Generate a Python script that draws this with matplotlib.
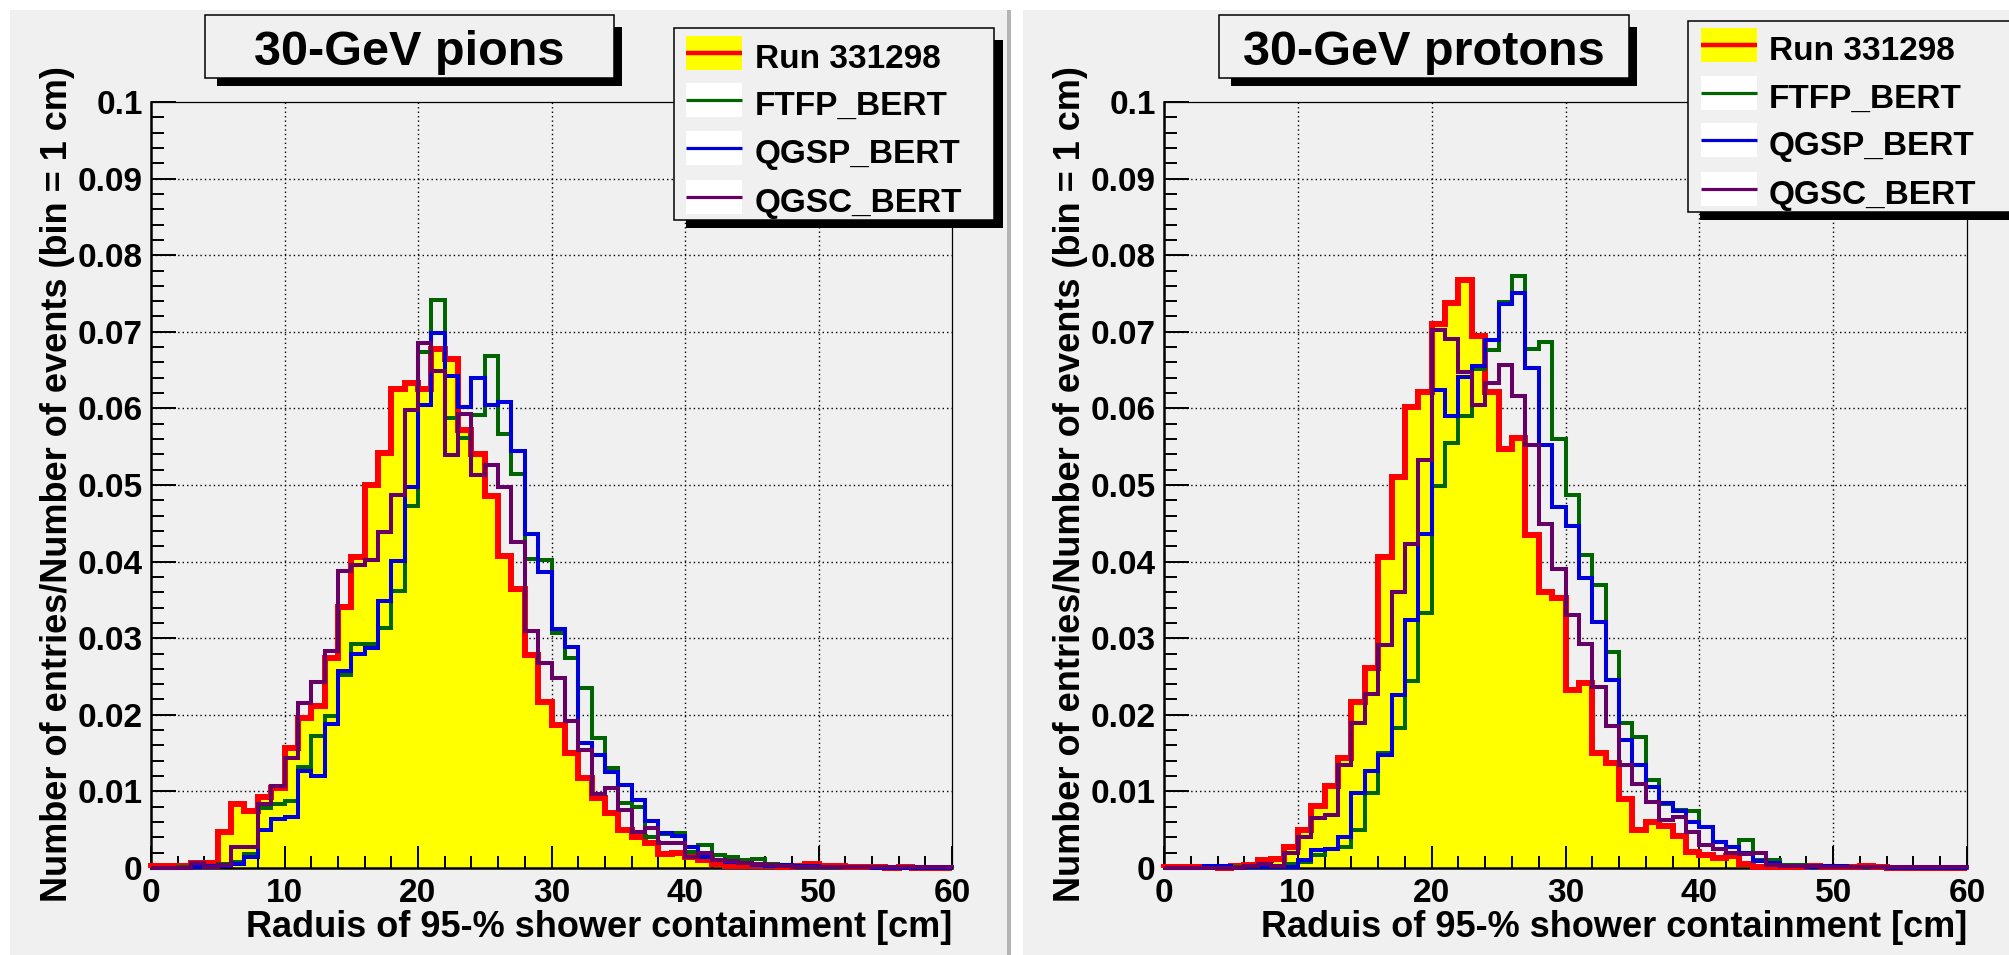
import numpy as np
import matplotlib
matplotlib.use('Agg')
import matplotlib.pyplot as plt
from matplotlib.patches import Rectangle
from matplotlib.lines import Line2D
from matplotlib.ticker import FormatStrFormatter

plt.rcParams['font.family'] = ['Liberation Sans', 'DejaVu Sans']
plt.rcParams['font.weight'] = 'bold'

# 1 cm bins from 0 to 60 cm, normalised to the number of events
edges = np.arange(0, 61)

pion_data = [0.0002, 0.0003, 0.0003, 0.0006, 0.0007, 0.0047, 0.0084, 0.0075, 0.0093, 0.0105,
             0.0157, 0.0196, 0.0211, 0.0274, 0.0341, 0.0406, 0.0500, 0.0542, 0.0625, 0.0633,
             0.0625, 0.0678, 0.0664, 0.0572, 0.0541, 0.0485, 0.0407, 0.0364, 0.0278, 0.0217,
             0.0187, 0.0150, 0.0117, 0.0091, 0.0072, 0.0049, 0.0041, 0.0032, 0.0018, 0.0020,
             0.0014, 0.0010, 0.0005, 0.0003, 0.0002, 0.0002, 0.0002, 0.0001, 0.0003, 0.0005,
             0.0002, 0.0002, 0.0001, 0.0001, 0.0001, 0.0000, 0.0001, 0.0000, 0.0000, 0.0000]
pion_ftfp = [0.0000, 0.0000, 0.0001, 0.0003, 0.0003, 0.0005, 0.0008, 0.0018, 0.0078, 0.0083,
             0.0087, 0.0132, 0.0172, 0.0198, 0.0252, 0.0292, 0.0293, 0.0313, 0.0361, 0.0472,
             0.0674, 0.0741, 0.0587, 0.0561, 0.0591, 0.0668, 0.0567, 0.0515, 0.0404, 0.0402,
             0.0307, 0.0274, 0.0235, 0.0170, 0.0130, 0.0085, 0.0079, 0.0040, 0.0045, 0.0046,
             0.0021, 0.0030, 0.0017, 0.0015, 0.0010, 0.0012, 0.0005, 0.0004, 0.0002, 0.0002,
             0.0001, 0.0001, 0.0001, 0.0001, 0.0001, 0.0001, 0.0000, 0.0000, 0.0000, 0.0000]
pion_qgsp = [0.0000, 0.0000, 0.0000, 0.0001, 0.0002, 0.0002, 0.0005, 0.0015, 0.0050, 0.0064,
             0.0067, 0.0126, 0.0120, 0.0188, 0.0257, 0.0280, 0.0287, 0.0349, 0.0401, 0.0498,
             0.0605, 0.0699, 0.0642, 0.0602, 0.0640, 0.0604, 0.0609, 0.0545, 0.0436, 0.0386,
             0.0312, 0.0288, 0.0163, 0.0148, 0.0125, 0.0109, 0.0089, 0.0061, 0.0046, 0.0042,
             0.0028, 0.0015, 0.0010, 0.0008, 0.0006, 0.0004, 0.0002, 0.0004, 0.0003, 0.0002,
             0.0001, 0.0001, 0.0001, 0.0001, 0.0000, 0.0000, 0.0000, 0.0000, 0.0000, 0.0000]
pion_qgsc = [0.0000, 0.0000, 0.0000, 0.0007, 0.0001, 0.0004, 0.0028, 0.0028, 0.0084, 0.0107,
             0.0143, 0.0215, 0.0243, 0.0283, 0.0388, 0.0396, 0.0402, 0.0438, 0.0487, 0.0598,
             0.0686, 0.0649, 0.0539, 0.0593, 0.0513, 0.0526, 0.0497, 0.0426, 0.0309, 0.0267,
             0.0248, 0.0192, 0.0154, 0.0097, 0.0104, 0.0076, 0.0047, 0.0052, 0.0032, 0.0032,
             0.0015, 0.0020, 0.0010, 0.0009, 0.0006, 0.0005, 0.0004, 0.0002, 0.0001, 0.0001,
             0.0001, 0.0001, 0.0001, 0.0001, 0.0001, 0.0001, 0.0001, 0.0001, 0.0001, 0.0001]

proton_data = [0.0001, 0.0001, 0.0001, 0.0001, 0.0000, 0.0002, 0.0004, 0.0010, 0.0012, 0.0028,
               0.0050, 0.0081, 0.0107, 0.0144, 0.0217, 0.0261, 0.0406, 0.0511, 0.0602, 0.0622,
               0.0710, 0.0738, 0.0767, 0.0694, 0.0622, 0.0547, 0.0562, 0.0435, 0.0360, 0.0353,
               0.0232, 0.0241, 0.0150, 0.0137, 0.0090, 0.0049, 0.0060, 0.0055, 0.0042, 0.0021,
               0.0017, 0.0013, 0.0016, 0.0005, 0.0001, 0.0001, 0.0001, 0.0001, 0.0002, 0.0001,
               0.0001, 0.0001, 0.0002, 0.0001, 0.0000, 0.0000, 0.0000, 0.0000, 0.0000, 0.0000]
proton_ftfp = [0.0000, 0.0000, 0.0000, 0.0000, 0.0000, 0.0001, 0.0001, 0.0002, 0.0003, 0.0005,
               0.0008, 0.0017, 0.0025, 0.0028, 0.0049, 0.0098, 0.0150, 0.0183, 0.0244, 0.0333,
               0.0499, 0.0555, 0.0590, 0.0652, 0.0676, 0.0739, 0.0773, 0.0678, 0.0687, 0.0560,
               0.0487, 0.0409, 0.0370, 0.0282, 0.0189, 0.0171, 0.0115, 0.0083, 0.0076, 0.0075,
               0.0054, 0.0034, 0.0028, 0.0036, 0.0011, 0.0010, 0.0004, 0.0004, 0.0002, 0.0002,
               0.0001, 0.0001, 0.0001, 0.0001, 0.0000, 0.0000, 0.0000, 0.0000, 0.0000, 0.0000]
proton_qgsp = [0.0000, 0.0000, 0.0000, 0.0003, 0.0002, 0.0000, 0.0001, 0.0001, 0.0001, 0.0001,
               0.0011, 0.0023, 0.0025, 0.0040, 0.0098, 0.0127, 0.0148, 0.0226, 0.0324, 0.0436,
               0.0624, 0.0590, 0.0641, 0.0656, 0.0689, 0.0736, 0.0751, 0.0653, 0.0552, 0.0471,
               0.0446, 0.0378, 0.0321, 0.0245, 0.0167, 0.0135, 0.0106, 0.0085, 0.0074, 0.0060,
               0.0054, 0.0034, 0.0028, 0.0020, 0.0009, 0.0006, 0.0003, 0.0003, 0.0001, 0.0003,
               0.0003, 0.0001, 0.0001, 0.0001, 0.0000, 0.0000, 0.0000, 0.0000, 0.0000, 0.0000]
proton_qgsc = [0.0000, 0.0000, 0.0000, 0.0000, 0.0000, 0.0000, 0.0002, 0.0005, 0.0003, 0.0019,
               0.0040, 0.0065, 0.0069, 0.0134, 0.0189, 0.0227, 0.0291, 0.0360, 0.0423, 0.0533,
               0.0703, 0.0691, 0.0647, 0.0605, 0.0633, 0.0657, 0.0616, 0.0552, 0.0449, 0.0390,
               0.0330, 0.0292, 0.0236, 0.0185, 0.0134, 0.0110, 0.0086, 0.0063, 0.0067, 0.0047,
               0.0030, 0.0025, 0.0020, 0.0018, 0.0020, 0.0004, 0.0003, 0.0003, 0.0002, 0.0001,
               0.0001, 0.0001, 0.0001, 0.0001, 0.0001, 0.0001, 0.0001, 0.0001, 0.0001, 0.0001]

legend_labels = ['Run 331298', 'FTFP_BERT', 'QGSP_BERT', 'QGSC_BERT']
xlabel = 'Raduis of 95-% shower containment [cm]'
ylabel = 'Number of entries/Number of events (bin = 1 cm)'

W, H = 2009, 955
CANVAS = '#f0f0f0'
RED, YELLOW = '#ff0000', '#ffff00'
GREEN, BLUE, PURPLE = '#006400', '#0000d8', '#660066'


def box(x0, y0, x1, y1):
    # pixel box (top-left origin) -> figure fraction [left, bottom, width, height]
    return [x0 / W, 1 - y1 / H, (x1 - x0) / W, (y1 - y0) / H]


def add_rect(fig, x0, y0, x1, y1, z=5, **kw):
    l, b, w, h = box(x0, y0, x1, y1)
    fig.add_artist(Rectangle((l, b), w, h, transform=fig.transFigure, zorder=z, **kw))


def add_hline(fig, x0, x1, y, color, lw):
    fig.add_artist(Line2D([x0 / W, x1 / W], [1 - y / H, 1 - y / H], color=color,
                          lw=lw, transform=fig.transFigure, zorder=7,
                          solid_capstyle='butt'))


def draw_panel(fig, x0, x1, title, title_box, legend_box, swatch_x, rows, text_x,
               ylabel_x, data, ftfp, qgsp, qgsc):
    ax = fig.add_axes(box(x0, 102, x1, 868))
    ax.set_facecolor(CANVAS)

    # dotted grid under the histograms
    for v in range(10, 60, 10):
        ax.axvline(v, color='k', lw=1.0, ls=(0, (1, 2.2)), zorder=0.8)
    for v in np.arange(0.01, 0.095, 0.01):
        ax.axhline(v, color='k', lw=1.0, ls=(0, (1, 2.2)), zorder=0.8)

    ax.stairs(data, edges, fill=True, color=YELLOW, lw=0, zorder=1.5)
    ax.stairs(data, edges, color=RED, lw=4.3, zorder=2.6, clip_on=False)
    for vals, col in ((ftfp, GREEN), (qgsp, BLUE), (qgsc, PURPLE)):
        ax.stairs(vals, edges, color=col, lw=2.9, zorder=2.6, clip_on=False)

    ax.set_xlim(0, 60)
    ax.set_ylim(0, 0.1)
    ax.set_xticks(np.arange(0, 61, 10))
    ax.set_xticks(np.arange(0, 61, 2), minor=True)
    ax.set_yticks(np.arange(0, 0.101, 0.01))
    ax.set_yticks(np.arange(0, 0.101, 0.002), minor=True)
    ax.yaxis.set_major_formatter(FormatStrFormatter('%g'))
    ax.tick_params(which='both', direction='in', width=1.4, labelsize=24,
                   top=False, right=False)
    ax.tick_params(axis='x', which='major', length=16, pad=7)
    ax.tick_params(axis='x', which='minor', length=8.5)
    ax.tick_params(axis='y', which='major', length=18, pad=6)
    ax.tick_params(axis='y', which='minor', length=9)
    for side in ('left', 'bottom'):
        ax.spines[side].set_linewidth(1.8)
    for side in ('top', 'right'):
        ax.spines[side].set_linewidth(0.9)

    fig.text(x1 / W, 1 - 937 / H, xlabel, ha='right', va='baseline', fontsize=26)
    fig.text(ylabel_x / W, 1 - 484 / H, ylabel, rotation=90, rotation_mode='anchor',
             ha='center', va='baseline', fontsize=26)

    # title box with drop shadow
    tx0, ty0, tx1, ty1 = title_box
    add_rect(fig, tx0 + 12, ty0 + 12, tx1 + 8, ty1 + 8, z=5, fc='k', ec='none')
    add_rect(fig, tx0, ty0, tx1, ty1, z=6, fc=CANVAS, ec='k', lw=1.1)
    fig.text((tx0 + tx1) / 2 / W, 1 - (ty1 - 13) / H, title, ha='center',
             va='baseline', fontsize=35, zorder=7)

    # legend box with drop shadow
    lx0, ly0, lx1, ly1 = legend_box
    add_rect(fig, lx0 + 12, ly0 + 12, lx1 + 9, ly1 + 8, z=5, fc='k', ec='none')
    add_rect(fig, lx0, ly0, lx1, ly1, z=6, fc=CANVAS, ec='k', lw=1.1)
    sx0, sx1 = swatch_x
    colors = [RED, GREEN, BLUE, PURPLE]
    fills = [YELLOW, 'white', 'white', 'white']
    for i, (label, col, fcol, yc) in enumerate(zip(legend_labels, colors, fills, rows)):
        add_rect(fig, sx0, yc - 17, sx1, yc + 17, z=6.5, fc=fcol, ec='none')
        add_hline(fig, sx0, sx1, yc, col, 3.2 if i == 0 else 2.3)
        fig.text(text_x / W, 1 - (yc + 15) / H, label, ha='left', va='baseline',
                 fontsize=24, zorder=7)
    return ax


fig = plt.figure(figsize=(W / 100, H / 100), dpi=100)
fig.patch.set_facecolor('white')

# two canvases with a separating border
add_rect(fig, 10, 10, 1007, 960, z=-10, fc=CANVAS, ec='none')
add_rect(fig, 1007, 10, 1011, 960, z=-10, fc='#b4b4b4', ec='none')
add_rect(fig, 1023, 10, 2012, 960, z=-10, fc=CANVAS, ec='none')

draw_panel(fig, 151, 952, '30-GeV pions', (205, 15, 614, 78), (674, 28, 994, 220),
           (686, 742), [53, 100, 148, 197], 755, 67,
           pion_data, pion_ftfp, pion_qgsp, pion_qgsc)
draw_panel(fig, 1164, 1967, '30-GeV protons', (1219, 15, 1629, 78), (1688, 21, 2020, 212),
           (1701, 1757), [45, 93, 140, 189], 1769, 1080,
           proton_data, proton_ftfp, proton_qgsp, proton_qgsc)

fig.savefig('out.png', dpi=100)
